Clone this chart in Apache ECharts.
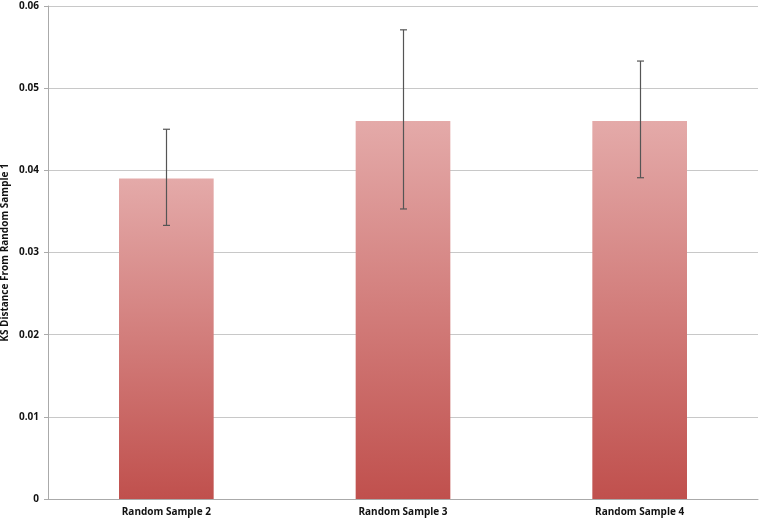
<!DOCTYPE html>
<html><head><meta charset="utf-8">
<script src="https://cdn.jsdelivr.net/npm/echarts@6/dist/echarts.min.js"></script>
<style>html,body{margin:0;padding:0;background:#fff}#c{width:762px;height:522px}</style>
</head><body><div id="c"></div>
<script>
const categories = ['Random Sample 2', 'Random Sample 3', 'Random Sample 4'];
const values = [0.039, 0.046, 0.046];
const errLow = [0.0333, 0.0353, 0.0391];
const errHigh = [0.0450, 0.0571, 0.0533];
const yTicks = [0, 0.01, 0.02, 0.03, 0.04, 0.05, 0.06];

const chart = echarts.init(document.getElementById('c'));
const font = '"Open Sans", "DejaVu Sans", sans-serif';
chart.setOption({
  animation: false,
  grid: {left: 48, right: 4, top: 6, bottom: 23, containLabel: false, outerBoundsMode: 'none'},
  xAxis: {
    type: 'category', data: categories,
    axisLine: {lineStyle: {color: '#aaa', width: 1}},
    axisTick: {show: false},
    axisLabel: {color: '#111', fontFamily: font, fontSize: 10, fontWeight: 'bold', margin: 8}
  },
  yAxis: {
    type: 'value', min: 0, max: 0.06, interval: 0.01,
    name: 'KS Distance From Random Sample 1', nameLocation: 'middle', nameGap: 38, nameRotate: 90,
    nameMoveOverlap: false,
    nameTextStyle: {color: '#111', fontFamily: font, fontSize: 10, fontWeight: 'bold'},
    axisLine: {show: true, lineStyle: {color: '#aaa'}},
    axisTick: {show: true, length: 4, lineStyle: {color: '#aaa'}},
    splitLine: {lineStyle: {color: '#c8c8c8', width: 1}},
    axisLabel: {color: '#111', fontFamily: font, fontSize: 10, fontWeight: 'bold', margin: 9,
      formatter: v => { const t = yTicks.find(x => Math.abs(x - v) < 1e-9); return t === 0 ? '0' : String(+v.toFixed(2)); }}
  },
  series: [{
    type: 'bar', data: values, barWidth: '40%',
    itemStyle: {color: new echarts.graphic.LinearGradient(0, 0, 0, 1, [
      {offset: 0, color: '#e4aaa9'}, {offset: 1, color: '#c0504d'}])}
  }, {
    type: 'custom',
    data: categories.map((c, i) => [i, errLow[i], errHigh[i]]),
    renderItem: (params, api) => {
      const lo = api.coord([api.value(0), api.value(1)]);
      const hi = api.coord([api.value(0), api.value(2)]);
      const x = Math.round(lo[0]) + 0.5, hw = 3.5;
      const st = {stroke: '#555', lineWidth: 1.2};
      return {type: 'group', children: [
        {type: 'line', shape: {x1: x, y1: lo[1], x2: x, y2: hi[1]}, style: st},
        {type: 'line', shape: {x1: x - hw, y1: lo[1], x2: x + hw, y2: lo[1]}, style: st},
        {type: 'line', shape: {x1: x - hw, y1: hi[1], x2: x + hw, y2: hi[1]}, style: st}
      ]};
    },
    z: 5
  }]
});
</script></body></html>
